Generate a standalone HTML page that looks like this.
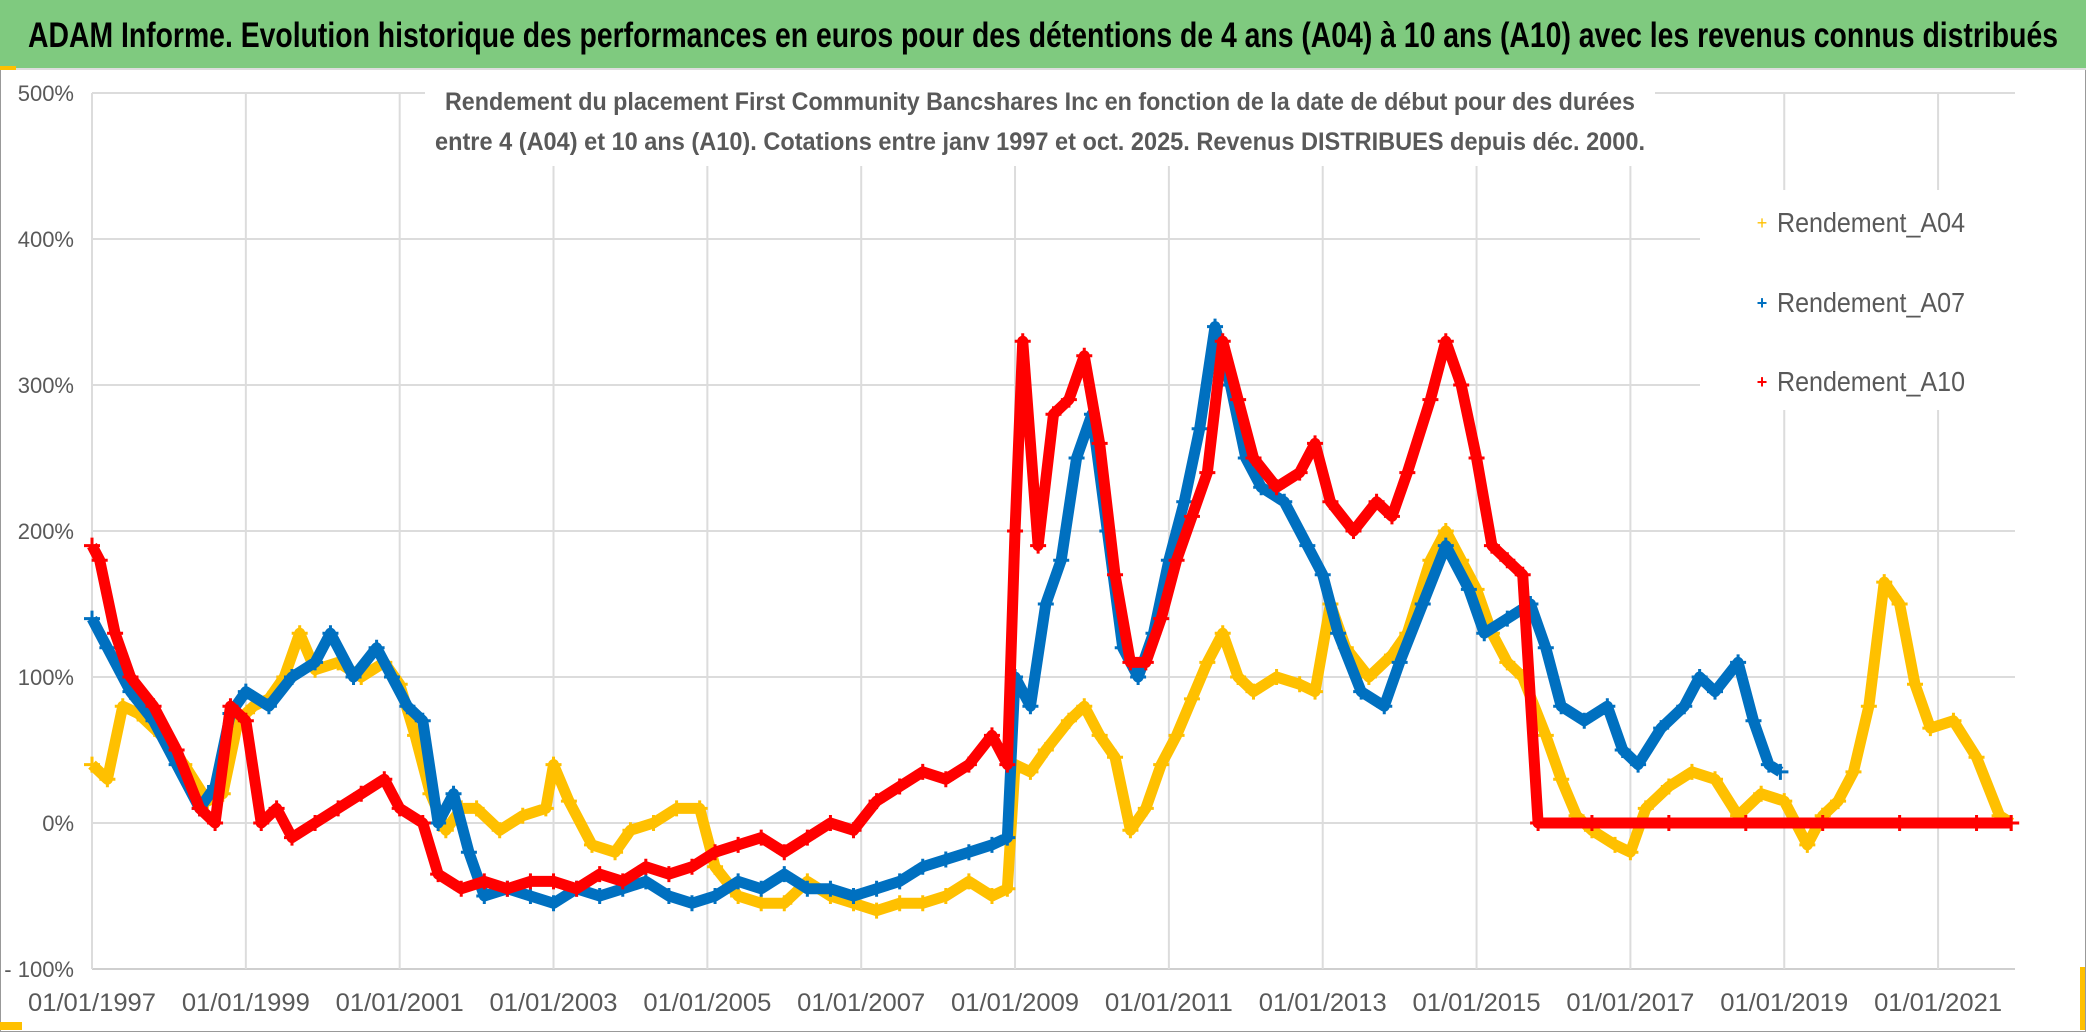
<!DOCTYPE html>
<html><head><meta charset="utf-8">
<style>
body{margin:0;background:#fff;width:2086px;height:1032px;overflow:hidden;font-family:"Liberation Sans",sans-serif}
</style></head>
<body>
<svg id="chart" width="2086" height="1032" xmlns="http://www.w3.org/2000/svg" style="position:absolute;left:0;top:0">
<rect x="0" y="0" width="2086" height="1032" fill="#fff" stroke="#999" stroke-width="2"/>
<rect x="0" y="0" width="2086" height="68" fill="#7fca7f"/>
<line x1="0" y1="69" x2="2086" y2="69" stroke="#ddd" stroke-width="2"/>
<rect x="0" y="66" width="16" height="4" fill="#ffc000"/>
<text x="1043" y="47" text-anchor="middle" font-size="35" font-weight="bold" fill="#000" textLength="2030" lengthAdjust="spacingAndGlyphs">ADAM Informe. Evolution historique des performances en euros pour des détentions de 4 ans (A04) à 10 ans (A10) avec les revenus connus distribués</text>
<g id="grid"></g>
<g id="series"></g>
<rect x="425" y="80" width="1230" height="86" fill="#fff"/>
<text x="1040" y="110" text-anchor="middle" font-size="25" font-weight="bold" fill="#595959" textLength="1190" lengthAdjust="spacingAndGlyphs">Rendement du placement First Community Bancshares Inc en fonction de la date de début pour des durées</text>
<text x="1040" y="150" text-anchor="middle" font-size="25" font-weight="bold" fill="#595959" textLength="1210" lengthAdjust="spacingAndGlyphs">entre 4 (A04) et 10 ans (A10). Cotations entre janv 1997 et oct. 2025. Revenus DISTRIBUES depuis déc. 2000.</text>
<g>
<rect x="1700" y="190" width="315" height="220" fill="#fff"/>
<g><text x="1762" y="229" text-anchor="middle" font-size="18" fill="#ffc000">+</text><text x="1777" y="232" font-size="28" fill="#595959" textLength="188" lengthAdjust="spacingAndGlyphs">Rendement_A04</text></g>
<g><text x="1762" y="309" text-anchor="middle" font-size="18" font-weight="bold" fill="#0070c0">+</text><text x="1777" y="312" font-size="28" fill="#595959" textLength="188" lengthAdjust="spacingAndGlyphs">Rendement_A07</text></g>
<g><text x="1762" y="388" text-anchor="middle" font-size="18" font-weight="bold" fill="#ff0000">+</text><text x="1777" y="391" font-size="28" fill="#595959" textLength="188" lengthAdjust="spacingAndGlyphs">Rendement_A10</text></g>
</g>
<rect x="2080" y="967" width="5" height="63" fill="#ffc000"/>
<rect x="0" y="1022" width="22" height="8" fill="#ffc000"/>
</svg>
<script>
const yTicks=[500,400,300,200,100,0,-100];
const yTickLabels=["500%","400%","300%","200%","100%","0%","- 100%"];
const xTickYears=[1997,1999,2001,2003,2005,2007,2009,2011,2013,2015,2017,2019,2021];
const xTickLabels=["01/01/1997","01/01/1999","01/01/2001","01/01/2003","01/01/2005","01/01/2007","01/01/2009","01/01/2011","01/01/2013","01/01/2015","01/01/2017","01/01/2019","01/01/2021"];
const a04Dates=[1997.0,1997.2,1997.4,1997.6,1997.9,1998.2,1998.5,1998.7,1998.9,1999.1,1999.3,1999.5,1999.7,1999.9,2000.2,2000.5,2000.8,2001.0,2001.2,2001.4,2001.6,2001.8,2002.0,2002.3,2002.6,2002.9,2003.0,2003.2,2003.5,2003.8,2004.0,2004.3,2004.6,2004.9,2005.1,2005.4,2005.7,2006.0,2006.3,2006.6,2006.9,2007.2,2007.5,2007.8,2008.1,2008.4,2008.7,2008.9,2009.0,2009.2,2009.4,2009.7,2009.9,2010.1,2010.3,2010.5,2010.7,2010.9,2011.1,2011.3,2011.5,2011.7,2011.9,2012.1,2012.4,2012.7,2012.9,2013.1,2013.3,2013.6,2013.9,2014.1,2014.4,2014.6,2014.8,2015.0,2015.2,2015.4,2015.6,2015.9,2016.1,2016.3,2016.5,2016.8,2017.0,2017.2,2017.5,2017.8,2018.1,2018.4,2018.7,2019.0,2019.3,2019.5,2019.7,2019.9,2020.1,2020.3,2020.5,2020.7,2020.9,2021.2,2021.5,2021.8,2021.95];
const a04Values=[40,30,80,75,60,40,15,20,70,80,85,100,130,105,110,100,110,95,60,20,-5,10,10,-5,5,10,40,15,-15,-20,-5,0,10,10,-30,-50,-55,-55,-40,-50,-55,-60,-55,-55,-50,-40,-50,-45,40,35,50,70,80,60,45,-5,10,40,60,85,110,130,100,90,100,95,90,150,120,100,115,130,180,200,180,160,130,110,100,60,30,5,-5,-15,-20,10,25,35,30,5,20,15,-15,5,15,35,80,165,150,95,65,70,45,5,0];
const a07Dates=[1997.0,1997.2,1997.5,1997.8,1998.1,1998.4,1998.6,1998.8,1999.0,1999.3,1999.6,1999.9,2000.1,2000.4,2000.7,2000.9,2001.1,2001.3,2001.5,2001.7,2001.9,2002.1,2002.4,2002.7,2003.0,2003.3,2003.6,2003.9,2004.2,2004.5,2004.8,2005.1,2005.4,2005.7,2006.0,2006.3,2006.6,2006.9,2007.2,2007.5,2007.8,2008.1,2008.4,2008.7,2008.9,2009.0,2009.2,2009.4,2009.6,2009.8,2010.0,2010.2,2010.4,2010.6,2010.8,2011.0,2011.2,2011.4,2011.6,2011.8,2012.0,2012.2,2012.5,2012.8,2013.0,2013.2,2013.5,2013.8,2014.0,2014.3,2014.6,2014.9,2015.1,2015.4,2015.7,2015.9,2016.1,2016.4,2016.7,2016.9,2017.1,2017.4,2017.7,2017.9,2018.1,2018.4,2018.6,2018.8,2018.95];
const a07Values=[140,120,90,70,40,10,25,75,90,80,100,110,130,100,120,100,80,70,0,20,-20,-50,-45,-50,-55,-45,-50,-45,-40,-50,-55,-50,-40,-45,-35,-45,-45,-50,-45,-40,-30,-25,-20,-15,-10,100,80,150,180,250,280,200,120,100,130,180,220,270,340,300,250,230,220,190,170,130,90,80,110,150,190,160,130,140,150,120,80,70,80,50,40,65,80,100,90,110,70,40,35];
const a10Dates=[1997.0,1997.1,1997.3,1997.5,1997.8,1998.1,1998.4,1998.6,1998.8,1999.0,1999.2,1999.4,1999.6,1999.9,2000.2,2000.5,2000.8,2001.0,2001.3,2001.5,2001.8,2002.1,2002.4,2002.7,2003.0,2003.3,2003.6,2003.9,2004.2,2004.5,2004.8,2005.1,2005.4,2005.7,2006.0,2006.3,2006.6,2006.9,2007.2,2007.5,2007.8,2008.1,2008.4,2008.7,2008.9,2009.0,2009.1,2009.3,2009.5,2009.7,2009.9,2010.1,2010.3,2010.5,2010.7,2010.9,2011.1,2011.3,2011.5,2011.7,2011.9,2012.1,2012.4,2012.7,2012.9,2013.1,2013.4,2013.7,2013.9,2014.1,2014.4,2014.6,2014.8,2015.0,2015.2,2015.4,2015.6,2015.8,2016.5,2017.5,2018.5,2019.5,2020.5,2021.5,2021.95];
const a10Values=[190,180,130,100,80,50,10,0,80,70,0,10,-10,0,10,20,30,10,0,-35,-45,-40,-45,-40,-40,-45,-35,-40,-30,-35,-30,-20,-15,-10,-20,-10,0,-5,15,25,35,30,40,60,40,200,330,190,280,290,320,260,170,110,110,140,180,210,240,330,290,250,230,240,260,220,200,220,210,240,290,330,300,250,190,180,170,0,0,0,0,0,0,0,0];

const NS="http://www.w3.org/2000/svg";
const X0=92,X1=2015,YR0=1997,YR1=2022.0,Y0=969,PX100=146;
function xs(yr){return X0+(yr-YR0)*(X1-X0)/(YR1-YR0);}
function ys(v){return Y0-(v+100)*PX100/100;}
const grid=document.getElementById('grid');
const svg=document.getElementById('chart');
yTicks.forEach((t,i)=>{
  const l=document.createElementNS(NS,'line');
  l.setAttribute('x1',X0);l.setAttribute('x2',X1);l.setAttribute('y1',ys(t));l.setAttribute('y2',ys(t));
  l.setAttribute('stroke',t===-100?'#cfcfcf':'#dcdcdc');l.setAttribute('stroke-width',2);
  
  
  grid.appendChild(l);
  const tx=document.createElementNS(NS,'text');
  tx.setAttribute('x',74);tx.setAttribute('y',ys(t)+8);tx.setAttribute('text-anchor','end');
  tx.setAttribute('font-size','22');tx.setAttribute('fill','#595959');
  tx.textContent=yTickLabels[i];
  
  
  svg.appendChild(tx);
});
xTickYears.forEach((yr,i)=>{
  const l=document.createElementNS(NS,'line');
  l.setAttribute('x1',xs(yr));l.setAttribute('x2',xs(yr));l.setAttribute('y1',ys(500));l.setAttribute('y2',Y0);
  l.setAttribute('stroke','#dcdcdc');l.setAttribute('stroke-width',2);
  
  
  grid.appendChild(l);
  const tx=document.createElementNS(NS,'text');
  tx.setAttribute('x',xs(yr));tx.setAttribute('y',1011);tx.setAttribute('text-anchor','middle');
  tx.setAttribute('font-size','25');tx.setAttribute('fill','#595959');
  tx.setAttribute('textLength','128');tx.setAttribute('lengthAdjust','spacingAndGlyphs');
  tx.textContent=xTickLabels[i];
  
  
  svg.appendChild(tx);
});
const ser=document.getElementById('series');
function draw(dates,vals,color,name,w){
  const g=document.createElementNS(NS,'g');
  
  
  const p=document.createElementNS(NS,'polyline');
  p.setAttribute('points',dates.map((d,i)=>xs(d)+','+ys(vals[i])).join(' '));
  p.setAttribute('fill','none');p.setAttribute('stroke',color);p.setAttribute('stroke-width',w);
  p.setAttribute('stroke-linejoin','round');
  
  
  g.appendChild(p);
  dates.forEach((d,i)=>{
    const m=document.createElementNS(NS,'path');
    const x=xs(d),y=ys(vals[i]);
    m.setAttribute('d',`M${x-8},${y}H${x+8}M${x},${y-8}V${y+8}`);
    m.setAttribute('stroke',color);m.setAttribute('stroke-width',3);
    
    
    g.appendChild(m);
  });
  ser.appendChild(g);
}
draw(a04Dates,a04Values,'#ffc000','series-a04',11);
draw(a07Dates,a07Values,'#0070c0','series-a07',11);
draw(a10Dates,a10Values,'#ff0000','series-a10',11);
</script>
</body></html>
